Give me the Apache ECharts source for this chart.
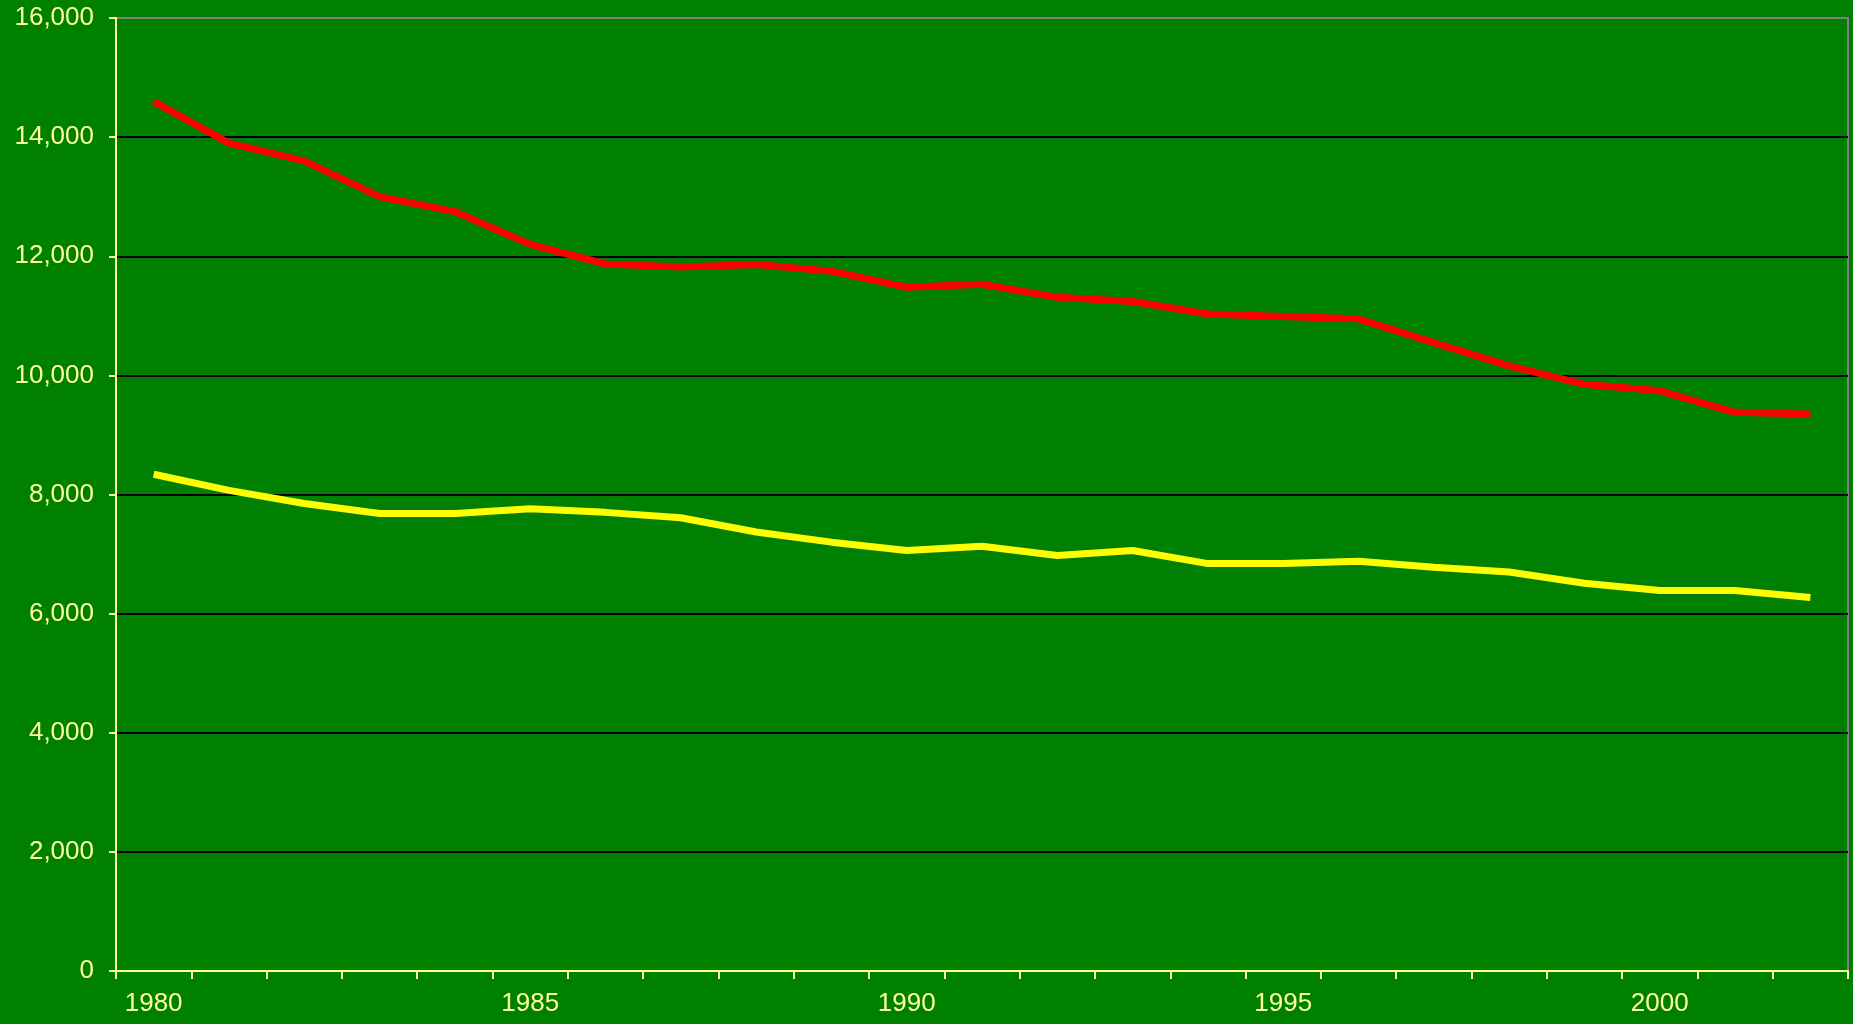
<!DOCTYPE html>
<html>
<head>
<meta charset="utf-8">
<title>chart</title>
<script src="https://cdn.jsdelivr.net/npm/echarts@6/dist/echarts.min.js"></script>
<style>
  html, body { margin: 0; padding: 0; background: #008000; }
  #chart { width: 1853px; height: 1024px; }
</style>
</head>
<body>
<div id="chart"></div>
<script>
var years = ['1980','1981','1982','1983','1984','1985','1986','1987','1988','1989','1990',
             '1991','1992','1993','1994','1995','1996','1997','1998','1999','2000','2001','2002'];
var redValues = [14600, 13900, 13600, 13000, 12750, 12200, 11870, 11820, 11860, 11750, 11480,
                 11530, 11310, 11240, 11030, 10990, 10950, 10550, 10160, 9850, 9740, 9380, 9350];
var yellowValues = [8340, 8070, 7850, 7680, 7680, 7760, 7700, 7610, 7370, 7200, 7060,
                    7130, 6975, 7060, 6840, 6840, 6880, 6780, 6700, 6510, 6390, 6390, 6270];
var yTicks = [0, 16000, 2000]; // min, max, step

var pale = '#FFFF99';
var font = "'Liberation Sans', Arial, sans-serif";

var chart = echarts.init(document.getElementById('chart'));
chart.setOption({
  backgroundColor: '#008000',
  animation: false,
  grid: {
    left: 116,
    right: 5,
    top: 18,
    bottom: 53,
    show: true,
    backgroundColor: '#008000',
    borderColor: '#808080',
    borderWidth: 2
  },
  xAxis: {
    type: 'category',
    data: years,
    boundaryGap: true,
    axisLine: { lineStyle: { color: pale, width: 2 } },
    axisTick: { show: true, interval: 0, length: 8, lineStyle: { color: pale, width: 2 } },
    axisLabel: { interval: 4, color: pale, fontSize: 26, fontFamily: font, margin: 20 },
    splitLine: { show: false }
  },
  yAxis: {
    type: 'value',
    min: yTicks[0],
    max: yTicks[1],
    interval: yTicks[2],
    axisLine: { show: true, lineStyle: { color: pale, width: 2 } },
    axisTick: { show: true, length: 7, lineStyle: { color: pale, width: 2 } },
    axisLabel: {
      color: pale, fontSize: 26, fontFamily: font, margin: 22,
      formatter: function (v) { return v.toLocaleString('en-US'); }
    },
    splitLine: { show: true, showMaxLine: false, showMinLine: false, lineStyle: { color: '#000000', width: 2 } }
  },
  series: [
    {
      type: 'line',
      data: redValues,
      symbol: 'none',
      lineStyle: { color: '#FF0000', width: 7 }
    },
    {
      type: 'line',
      data: yellowValues,
      symbol: 'none',
      lineStyle: { color: '#FFFF00', width: 7 }
    }
  ]
});
</script>
</body>
</html>
